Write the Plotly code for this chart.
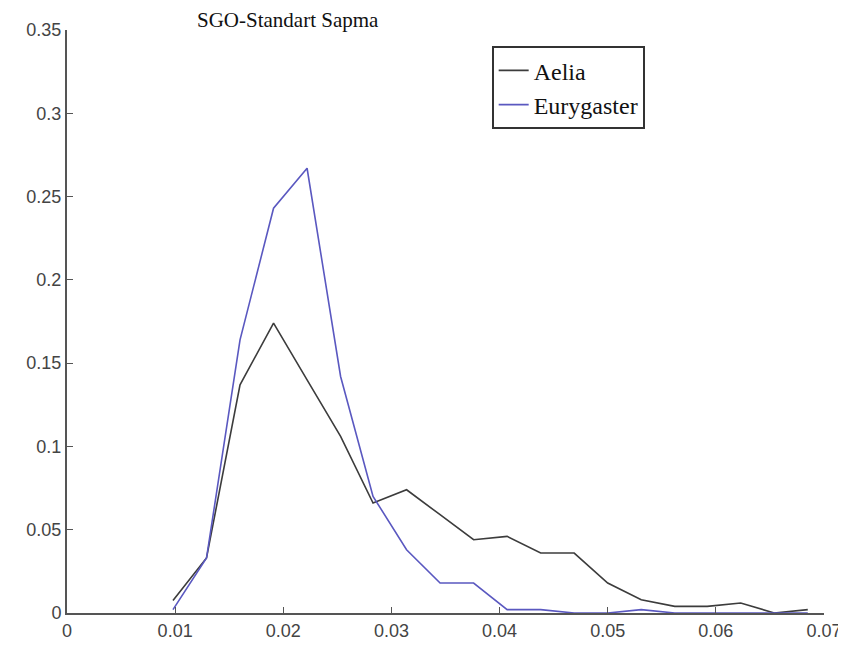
import plotly.graph_objects as go

# sample positions (bin centres)
x_vals = [0.0098, 0.0129, 0.0160, 0.0191, 0.0222, 0.0253, 0.0283, 0.0314,
          0.0345, 0.0376, 0.0407, 0.0438, 0.0469, 0.0500, 0.0531, 0.0562,
          0.0592, 0.0623, 0.0654, 0.0685]

aelia = [0.0075, 0.033, 0.137, 0.174, 0.140, 0.106, 0.066, 0.074,
         0.059, 0.044, 0.046, 0.036, 0.036, 0.018, 0.008, 0.004,
         0.004, 0.006, 0.000, 0.002]

eurygaster = [0.002, 0.033, 0.164, 0.243, 0.267, 0.142, 0.070, 0.038,
              0.018, 0.018, 0.002, 0.002, 0.000, 0.000, 0.002, 0.000,
              0.000, 0.000, 0.000, 0.000]

x_ticks = [0, 0.01, 0.02, 0.03, 0.04, 0.05, 0.06, 0.07]
x_labels = ["0", "0.01", "0.02", "0.03", "0.04", "0.05", "0.06", "0.07"]
y_ticks = [0, 0.05, 0.1, 0.15, 0.2, 0.25, 0.3, 0.35]
y_labels = ["0", "0.05", "0.1", "0.15", "0.2", "0.25", "0.3", "0.35"]

fig = go.Figure()
fig.add_trace(go.Scatter(x=x_vals, y=aelia, mode="lines", name="Aelia",
                         line=dict(color="#3c3c3c", width=1.6)))
fig.add_trace(go.Scatter(x=x_vals, y=eurygaster, mode="lines", name="Eurygaster",
                         line=dict(color="#5a58c0", width=1.6)))

axis_style = dict(showgrid=False, zeroline=False, showline=True, linecolor="#555555",
                  linewidth=2, ticks="inside", ticklen=6, tickcolor="#555555",
                  automargin=False,
                  tickfont=dict(family="Liberation Sans, Arial", size=18, color="#444444"))

fig.update_xaxes(range=[0, 0.07], tickvals=x_ticks, ticktext=x_labels, **axis_style)
fig.update_yaxes(range=[0, 0.35], tickvals=y_ticks, ticktext=y_labels, **axis_style)

# title sits just above the plot area, like the original
fig.add_annotation(text="SGO-Standart Sapma", xref="paper", yref="paper",
                   x=0.169, y=1.0, xanchor="left", yanchor="bottom", yshift=-4,
                   showarrow=False,
                   font=dict(family="Liberation Serif, Times New Roman", size=21, color="#111111"))

# page body adds an 8px margin, so the figure is sized to fit the window
fig.update_layout(
    width=838, height=645,
    margin=dict(l=59, r=22, t=22, b=40),
    paper_bgcolor="white", plot_bgcolor="white",
    legend=dict(x=0.561, y=0.972, xanchor="left", yanchor="top",
                bgcolor="white", bordercolor="#333333", borderwidth=2,
                font=dict(family="Liberation Serif, Times New Roman", size=24, color="#111111"),
                tracegroupgap=0),
    showlegend=True,
)

fig.write_html("out.html")
